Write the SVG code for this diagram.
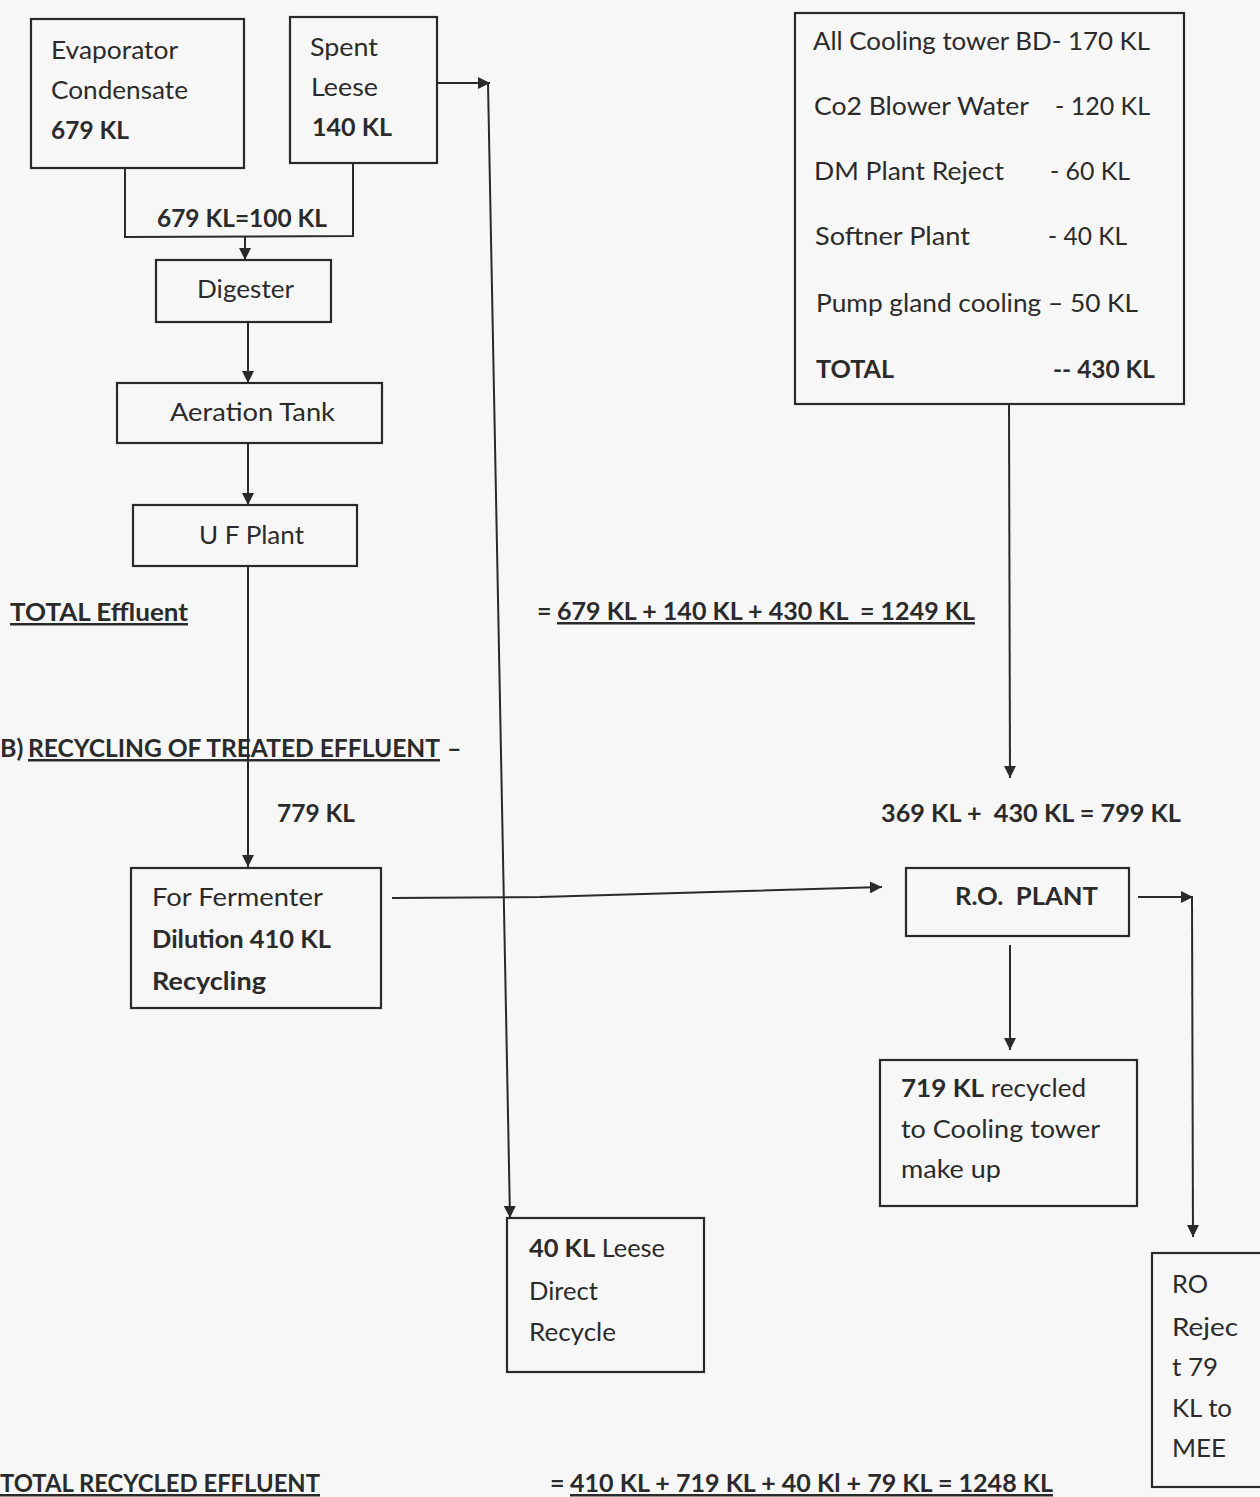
<svg xmlns="http://www.w3.org/2000/svg" width="1260" height="1497" viewBox="0 0 1260 1497">
<defs>
<marker id="ah" markerUnits="userSpaceOnUse" markerWidth="14" markerHeight="12" refX="12" refY="6" orient="auto">
<path d="M0,0 L12,6 L0,12 z" fill="#2a2a2a"/>
</marker>
<style>
.box{fill:none;stroke:#2a2a2a;stroke-width:2.2}
.ln{fill:none;stroke:#2a2a2a;stroke-width:2}
.t{font-family:Lato,"Liberation Sans",sans-serif;font-size:25px;fill:#2b2b2b;white-space:pre}
.b{font-weight:bold}
.u{text-decoration:underline}
</style>
</defs>
<rect x="0" y="0" width="1260" height="1497" fill="#f7f7f7"/>

<g id="connectors">
<polyline class="ln" points="125,168 125,237 353,236 353,163"/>
<line class="ln" x1="245" y1="237" x2="245" y2="260" marker-end="url(#ah)"/>
<line class="ln" x1="248" y1="322" x2="248" y2="383" marker-end="url(#ah)"/>
<line class="ln" x1="248" y1="443" x2="248" y2="505" marker-end="url(#ah)"/>
<line class="ln" x1="248" y1="566" x2="248" y2="867" marker-end="url(#ah)"/>
<line class="ln" x1="437" y1="83" x2="490" y2="83" marker-end="url(#ah)"/>
<line class="ln" x1="488" y1="83" x2="510" y2="1218" marker-end="url(#ah)"/>
<line class="ln" x1="1009" y1="404" x2="1010" y2="778" marker-end="url(#ah)"/>
<polyline class="ln" points="392,898 540,897 882,887" marker-end="url(#ah)"/>
<line class="ln" x1="1138" y1="897" x2="1193" y2="897" marker-end="url(#ah)"/>
<line class="ln" x1="1192" y1="897" x2="1193" y2="1237" marker-end="url(#ah)"/>
<line class="ln" x1="1010" y1="945" x2="1010" y2="1050" marker-end="url(#ah)"/>
</g>

<g id="evaporator">
<rect class="box" x="31" y="19" width="213" height="149"/>
<text class="t" x="51" y="59" textLength="127" lengthAdjust="spacingAndGlyphs">Evaporator</text>
<text class="t" x="51" y="99" textLength="137" lengthAdjust="spacingAndGlyphs">Condensate</text>
<text class="t b" x="51" y="139" textLength="78" lengthAdjust="spacingAndGlyphs">679 KL</text>
</g>

<g id="spent-leese">
<rect class="box" x="290" y="17" width="147" height="146"/>
<text class="t" x="310" y="56" textLength="68" lengthAdjust="spacingAndGlyphs">Spent</text>
<text class="t" x="311" y="96" textLength="67" lengthAdjust="spacingAndGlyphs">Leese</text>
<text class="t b" x="312" y="136" textLength="80" lengthAdjust="spacingAndGlyphs">140 KL</text>
</g>

<g id="merge-label">
<text class="t b" x="157" y="227" textLength="170" lengthAdjust="spacingAndGlyphs">679 KL=100 KL</text>
</g>

<g id="digester">
<rect class="box" x="156" y="260" width="175" height="62"/>
<text class="t" x="197" y="298" textLength="97" lengthAdjust="spacingAndGlyphs">Digester</text>
</g>

<g id="aeration">
<rect class="box" x="117" y="383" width="265" height="60"/>
<text class="t" x="170" y="421" textLength="165" lengthAdjust="spacingAndGlyphs">Aeration Tank</text>
</g>

<g id="uf-plant">
<rect class="box" x="133" y="505" width="224" height="61"/>
<text class="t" x="199" y="544" textLength="105" lengthAdjust="spacingAndGlyphs">U F Plant</text>
</g>

<g id="sources">
<rect class="box" x="795" y="13" width="389" height="391"/>
<text class="t" x="813" y="50" textLength="337" lengthAdjust="spacingAndGlyphs">All Cooling tower BD- 170 KL</text>
<text class="t" x="814" y="115" textLength="215" lengthAdjust="spacingAndGlyphs">Co2 Blower Water</text>
<text class="t" x="1055" y="115" textLength="95" lengthAdjust="spacingAndGlyphs">- 120 KL</text>
<text class="t" x="814" y="180" textLength="190" lengthAdjust="spacingAndGlyphs">DM Plant Reject</text>
<text class="t" x="1050" y="180" textLength="80" lengthAdjust="spacingAndGlyphs">- 60 KL</text>
<text class="t" x="815" y="245" textLength="155" lengthAdjust="spacingAndGlyphs">Softner Plant</text>
<text class="t" x="1048" y="245" textLength="79" lengthAdjust="spacingAndGlyphs">- 40 KL</text>
<text class="t" x="816" y="312" textLength="322" lengthAdjust="spacingAndGlyphs">Pump gland cooling – 50 KL</text>
<text class="t b" x="816" y="378" textLength="78" lengthAdjust="spacingAndGlyphs">TOTAL</text>
<text class="t b" x="1053" y="378" textLength="102" lengthAdjust="spacingAndGlyphs">-- 430 KL</text>
</g>

<g id="total-effluent">
<text class="t b u" x="10" y="621" textLength="178" lengthAdjust="spacingAndGlyphs">TOTAL Effluent</text>
<text class="t b" x="537" y="620">=</text>
<text class="t b u" x="557" y="620" textLength="418" lengthAdjust="spacingAndGlyphs">679 KL + 140 KL + 430 KL  = 1249 KL</text>
</g>

<g id="recycling-heading">
<text class="t b" x="0" y="757">B)</text>
<text class="t b u" x="28" y="757" textLength="412" lengthAdjust="spacingAndGlyphs">RECYCLING OF TREATED EFFLUENT</text>
<text class="t b" x="447" y="757">–</text>
</g>

<g id="flow-labels">
<text class="t b" x="277" y="822" textLength="78" lengthAdjust="spacingAndGlyphs">779 KL</text>
<text class="t b" x="881" y="822" textLength="300" lengthAdjust="spacingAndGlyphs">369 KL +  430 KL = 799 KL</text>
</g>

<g id="fermenter">
<rect class="box" x="131" y="868" width="250" height="140"/>
<text class="t" x="152" y="906" textLength="171" lengthAdjust="spacingAndGlyphs">For Fermenter</text>
<text class="t b" x="152" y="948" textLength="179" lengthAdjust="spacingAndGlyphs">Dilution 410 KL</text>
<text class="t b" x="152" y="990" textLength="114" lengthAdjust="spacingAndGlyphs">Recycling</text>
</g>

<g id="ro-plant">
<rect class="box" x="906" y="868" width="223" height="68"/>
<text class="t b" x="955" y="905" textLength="143" lengthAdjust="spacingAndGlyphs">R.O.  PLANT</text>
</g>

<g id="recycled-cooling">
<rect class="box" x="880" y="1060" width="257" height="146"/>
<text class="t" x="901" y="1097" textLength="185" lengthAdjust="spacingAndGlyphs"><tspan class="b">719 KL</tspan> recycled</text>
<text class="t" x="901" y="1138" textLength="199" lengthAdjust="spacingAndGlyphs">to Cooling tower</text>
<text class="t" x="901" y="1178" textLength="100" lengthAdjust="spacingAndGlyphs">make up</text>
</g>

<g id="leese-recycle">
<rect class="box" x="507" y="1218" width="197" height="154"/>
<text class="t" x="529" y="1257" textLength="136" lengthAdjust="spacingAndGlyphs"><tspan class="b">40 KL</tspan> Leese</text>
<text class="t" x="529" y="1300" textLength="69" lengthAdjust="spacingAndGlyphs">Direct</text>
<text class="t" x="529" y="1341" textLength="87" lengthAdjust="spacingAndGlyphs">Recycle</text>
</g>

<g id="ro-reject">
<rect class="box" x="1152" y="1253" width="120" height="234"/>
<text class="t" x="1172" y="1293" textLength="36" lengthAdjust="spacingAndGlyphs">RO</text>
<text class="t" x="1172" y="1336" textLength="66" lengthAdjust="spacingAndGlyphs">Rejec</text>
<text class="t" x="1172" y="1376" textLength="46" lengthAdjust="spacingAndGlyphs">t 79</text>
<text class="t" x="1172" y="1417" textLength="60" lengthAdjust="spacingAndGlyphs">KL to</text>
<text class="t" x="1172" y="1457" textLength="54" lengthAdjust="spacingAndGlyphs">MEE</text>
</g>

<g id="total-recycled">
<text class="t b u" x="0" y="1492" textLength="320" lengthAdjust="spacingAndGlyphs">TOTAL RECYCLED EFFLUENT</text>
<text class="t b" x="550" y="1492">=</text>
<text class="t b u" x="570" y="1492" textLength="483" lengthAdjust="spacingAndGlyphs">410 KL + 719 KL + 40 Kl + 79 KL = 1248 KL</text>
</g>
</svg>
